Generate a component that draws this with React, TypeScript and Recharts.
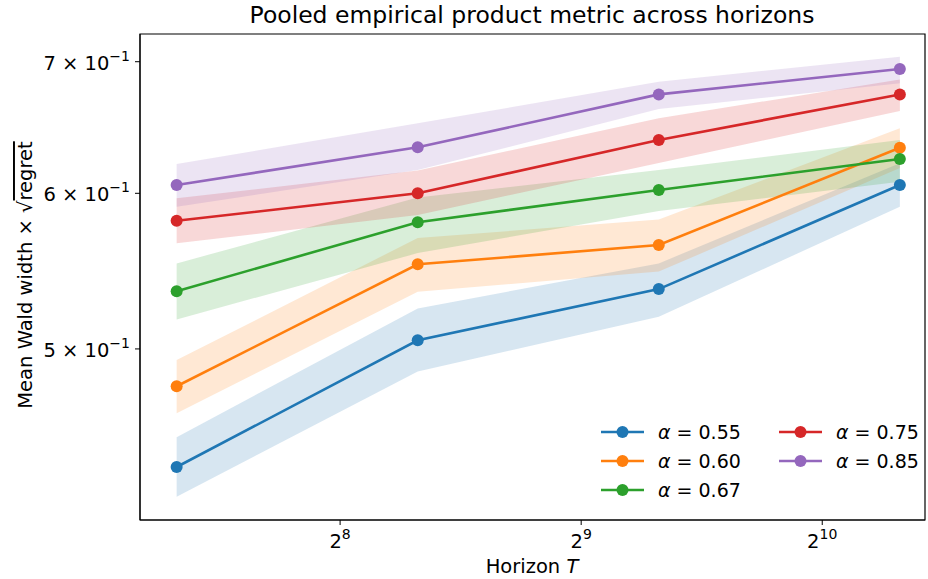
import React from 'react';
import { ComposedChart, Line, Area, XAxis, YAxis, ReferenceArea } from 'recharts';

// horizons T and the five alpha settings
const horizons = [160, 320, 640, 1280];
const alphaLabels = ['0.55', '0.60', '0.67', '0.75', '0.85'];
const COLORS = ['#1f77b4', '#ff7f0e', '#2ca02c', '#d62728', '#9467bd'];

// mean Wald width x sqrt(regret), per alpha
const meanA055 = [0.4354, 0.5051, 0.5363, 0.6059];
const meanA060 = [0.4786, 0.5521, 0.5647, 0.6329];
const meanA067 = [0.535, 0.58, 0.6023, 0.6246];
const meanA075 = [0.581, 0.6, 0.6387, 0.6737];
const meanA085 = [0.6059, 0.6332, 0.6737, 0.6941];

// band lower / upper edges
const lowA055 = [0.4205, 0.4869, 0.5192, 0.5906];
const highA055 = [0.4509, 0.5243, 0.5527, 0.6215];
const lowA060 = [0.4637, 0.5346, 0.5474, 0.6181];
const highA060 = [0.4935, 0.5694, 0.5819, 0.6475];
const lowA067 = [0.5176, 0.5594, 0.5877, 0.6082];
const highA067 = [0.5527, 0.597, 0.6166, 0.6387];
const lowA075 = [0.5659, 0.5849, 0.6217, 0.6607];
const highA075 = [0.5965, 0.6162, 0.6551, 0.6856];
const lowA085 = [0.5906, 0.6166, 0.6623, 0.6825];
const highA085 = [0.6209, 0.6513, 0.6837, 0.7041];

const xTicks = [256, 512, 1024];
const xTickExp = ['8', '9', '10'];
const yTicks = [0.5, 0.6, 0.7];
const yTickMant = ['5', '6', '7'];

const X_DOMAIN: [number, number] = [144, 1376];
const Y_DOMAIN: [number, number] = [0.4092, 0.7231];

const means = [meanA055, meanA060, meanA067, meanA075, meanA085];
const lows = [lowA055, lowA060, lowA067, lowA075, lowA085];
const highs = [highA055, highA060, highA067, highA075, highA085];

const data = horizons.map((T, i) => {
  const row: any = { T };
  means.forEach((m, k) => {
    row['m' + k] = m[i];
    row['b' + k] = [lows[k][i], highs[k][i]];
  });
  return row;
});

const FONT = 'DejaVu Sans';

const XTick = (props: any) => {
  const { x, y, payload } = props;
  const idx = xTicks.indexOf(payload.value);
  return (
    <text x={x} y={y + 21} textAnchor="middle" fontFamily={FONT} fontSize={19.5} fill="#000">
      2<tspan dy={-9} fontSize={14}>{xTickExp[idx]}</tspan>
    </text>
  );
};

const YTick = (props: any) => {
  const { x, y, payload } = props;
  const idx = yTicks.indexOf(payload.value);
  return (
    <text x={x - 3} y={y + 8} textAnchor="end" fontFamily={FONT} fontSize={19.5} fill="#000">
      {yTickMant[idx]} × 10<tspan dy={-9} fontSize={14}>−1</tspan>
    </text>
  );
};

const App: React.FC = () => {
  return (
    <div style={{ position: 'absolute', left: 0, top: 0, width: 928, height: 579, background: '#fff' }}>
      <ComposedChart
        width={928}
        height={579}
        data={data}
        margin={{ top: 34, right: 3, left: 10, bottom: 9 }}
      >
        <XAxis
          dataKey="T"
          type="number"
          scale="log"
          domain={X_DOMAIN}
          allowDataOverflow
          ticks={xTicks}
          tick={<XTick />}
          tickSize={5}
          tickLine={{ stroke: '#000' }}
          axisLine={{ stroke: '#000' }}
          height={50}
        />
        <YAxis
          type="number"
          scale="log"
          domain={Y_DOMAIN}
          allowDataOverflow
          ticks={yTicks}
          tick={<YTick />}
          tickSize={5}
          tickLine={{ stroke: '#000' }}
          axisLine={{ stroke: '#000' }}
          width={130}
        />
        {COLORS.map((c, k) => (
          <Area
            key={'band' + k}
            dataKey={'b' + k}
            stroke="none"
            fill={c}
            fillOpacity={0.18}
            isAnimationActive={false}
            activeDot={false}
          />
        ))}
        {COLORS.map((c, k) => (
          <Line
            key={'line' + k}
            dataKey={'m' + k}
            stroke={c}
            strokeWidth={2.6}
            dot={{ r: 6, fill: c, stroke: 'none' }}
            activeDot={false}
            isAnimationActive={false}
          />
        ))}
        <ReferenceArea
          x1={X_DOMAIN[0]}
          x2={X_DOMAIN[1]}
          y1={Y_DOMAIN[0]}
          y2={Y_DOMAIN[1]}
          fill="none"
          stroke="#000"
          strokeWidth={1.2}
          fillOpacity={0}
        />
      </ComposedChart>

      {/* title, axis labels, legend */}
      <svg
        width={928}
        height={579}
        style={{ position: 'absolute', left: 0, top: 0, pointerEvents: 'none' }}
        fontFamily={FONT}
      >
        <text x={532} y={23} textAnchor="middle" fontSize={23.5} fill="#000">
          Pooled empirical product metric across horizons
        </text>
        <text x={532} y={573} textAnchor="middle" fontSize={19.5} fill="#000">
          Horizon <tspan fontStyle="italic">T</tspan>
        </text>
        <text
          x={32}
          y={275}
          transform="rotate(-90, 32, 275)"
          textAnchor="middle"
          fontSize={19.5}
          fill="#000"
        >
          Mean Wald width × √<tspan style={{ textDecoration: 'overline' }}>regret</tspan>
        </text>
        {alphaLabels.map((a, k) => {
          const col = k < 3 ? 0 : 1;
          const row = k < 3 ? k : k - 3;
          const lx = col === 0 ? 601 : 779;
          const cy = 432 + row * 29;
          return (
            <g key={'leg' + k}>
              <line x1={lx} x2={lx + 43} y1={cy} y2={cy} stroke={COLORS[k]} strokeWidth={2.6} />
              <circle cx={lx + 21.5} cy={cy} r={6} fill={COLORS[k]} />
              <text x={lx + 57} y={cy + 7} fontSize={19} fill="#000" xmlSpace="preserve">
                <tspan fontStyle="italic">α</tspan>{' = '}{a}
              </text>
            </g>
          );
        })}
      </svg>
    </div>
  );
};

export default App;
